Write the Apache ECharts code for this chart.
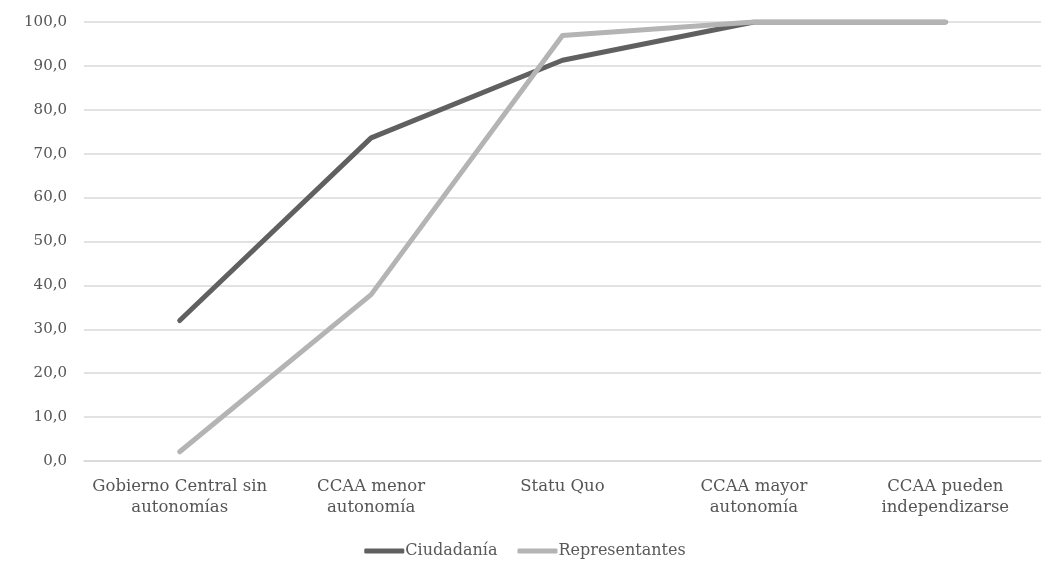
<!DOCTYPE html>
<html>
<head>
<meta charset="utf-8">
<script src="https://cdn.jsdelivr.net/npm/echarts@6/dist/echarts.min.js"></script>
<style>
  html, body { margin: 0; padding: 0; background: #fff; }
  #chart { width: 1050px; height: 569px; }
</style>
</head>
<body>
<div id="chart"></div>
<script>
var categories = [
  "Gobierno Central sin\nautonomías",
  "CCAA menor\nautonomía",
  "Statu Quo",
  "CCAA mayor\nautonomía",
  "CCAA pueden\nindependizarse"
];
var ciudadania = [32.0, 73.6, 91.3, 100, 100];
var representantes = [2.1, 37.9, 96.9, 100, 100];
var yTicks = { min: 0, max: 100, interval: 10 };

var FONT = "DejaVu Serif";
var chart = echarts.init(document.getElementById("chart"));

chart.setOption({
  animation: false,
  textStyle: { fontFamily: FONT, color: "#595959" },
  grid: { left: 84, right: 9, top: 22, bottom: 108 },
  legend: {
    bottom: 5,
    left: "center",
    icon: "roundRect",
    itemWidth: 40,
    itemHeight: 5,
    itemGap: 20,
    textStyle: { fontFamily: FONT, fontSize: 16, color: "#595959", padding: [0, 0, 0, -4] },
    data: ["Ciudadanía", "Representantes"]
  },
  xAxis: {
    type: "category",
    data: categories,
    boundaryGap: true,
    axisLine: { show: true, lineStyle: { color: "#d9d9d9", width: 1.5 } },
    axisTick: { show: false },
    axisLabel: {
      fontFamily: FONT,
      fontSize: 16.5,
      color: "#555555",
      lineHeight: 21,
      margin: 15,
      interval: 0
    }
  },
  yAxis: {
    type: "value",
    min: yTicks.min,
    max: yTicks.max,
    interval: yTicks.interval,
    axisLine: { show: false },
    axisTick: { show: false },
    splitLine: { lineStyle: { color: "#d9d9d9", width: 1.5 } },
    axisLabel: {
      fontFamily: FONT,
      fontSize: 15,
      color: "#555555",
      margin: 17,
      formatter: function (v) { return v.toFixed(1).replace(".", ","); }
    }
  },
  series: [
    {
      name: "Ciudadanía",
      type: "line",
      data: ciudadania,
      symbol: "none",
      lineStyle: { color: "#606060", width: 5, cap: "round", join: "round" },
      itemStyle: { color: "#606060" }
    },
    {
      name: "Representantes",
      type: "line",
      data: representantes,
      symbol: "none",
      lineStyle: { color: "#b4b4b4", width: 5, cap: "round", join: "round" },
      itemStyle: { color: "#b4b4b4" }
    }
  ]
});
</script>
</body>
</html>
